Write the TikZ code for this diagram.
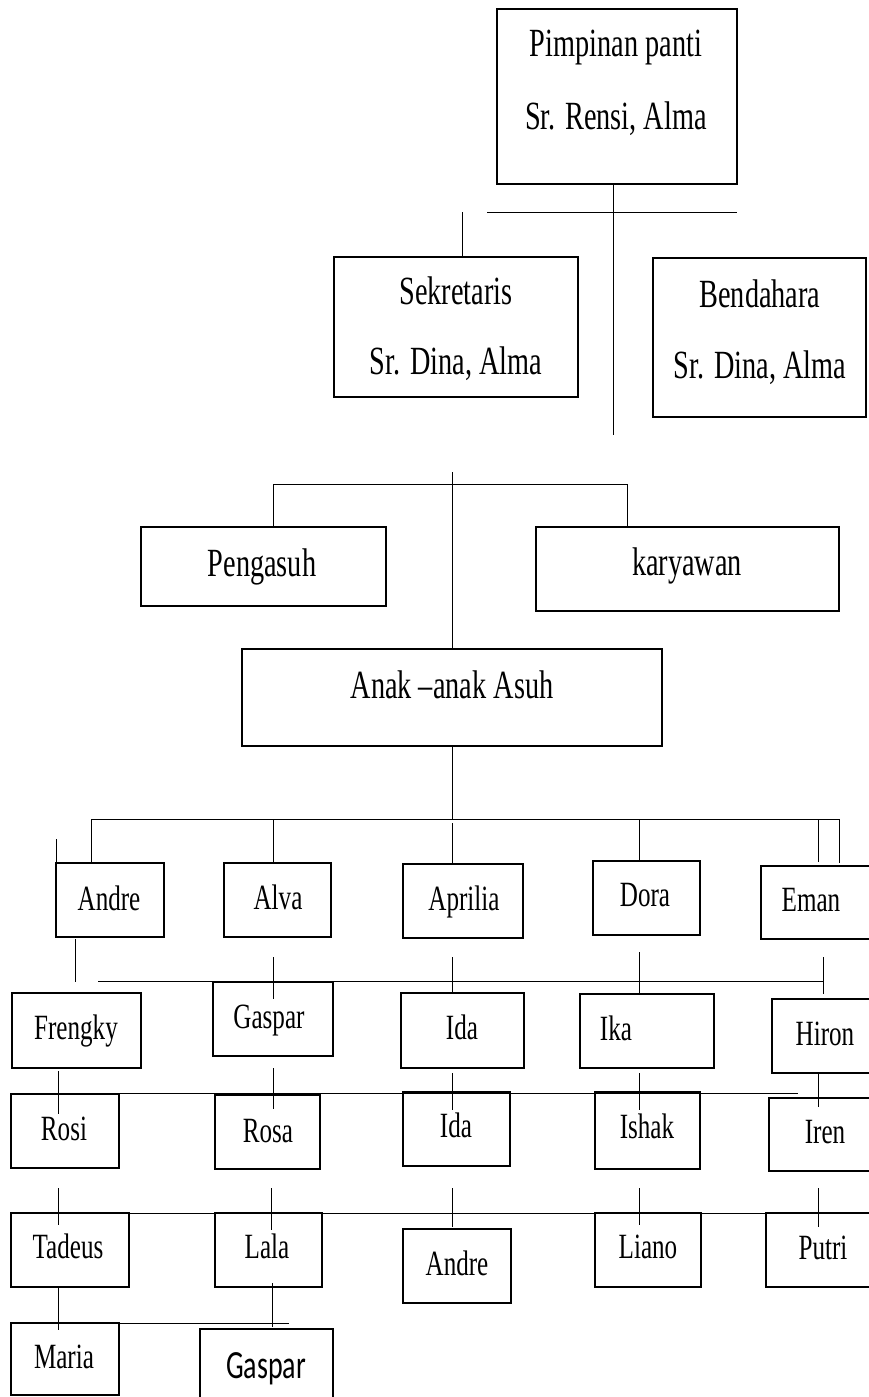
\documentclass[tikz,border=0pt]{standalone}
\usepackage{fontspec}
\setmainfont{Liberation Serif}[FakeStretch=0.707]
\newfontfamily\calfont{Carlito}[FakeStretch=0.70]
\newcommand\orgbox[5]{%
  \pgfmathsetmacro\bw{#4-#2}\pgfmathsetmacro\bh{#5-#3}%
  \pgfmathsetmacro\bcx{(#2+#4)/2}\pgfmathsetmacro\bcy{(#3+#5)/2}%
  \node[orgrect, minimum width=\bw pt, minimum height=\bh pt] (#1) at (\bcx,\bcy) {};}
\newcommand\orglbl[4]{\node[lbl] (#1) at (#2,#3) {#4};}
\newcommand\rowlbl[4]{\node[lbl, rowfont] (#1) at (#2,#3) {#4};}
\newcommand\seg[5]{\coordinate (#1a) at (#2,#3); \coordinate (#1b) at (#4,#5); \draw[conn] (#1a) -- (#1b);}
\begin{document}
\begin{tikzpicture}[x=1pt,y=-1pt,
  orgrect/.style={draw, line width=2.4pt, inner sep=0pt},
  lbl/.style={anchor=base, inner sep=0pt, font=\fontsize{40}{46}\selectfont},
  rowfont/.style={font=\fontsize{35.5}{42}\selectfont},
  conn/.style={line width=1pt}]
\useasboundingbox (0,0) rectangle (869,1397);
% boxes
\orgbox{pim}{497}{9}{737}{184}
\orgbox{sek}{334}{257}{578}{397}
\orgbox{ben}{653}{258}{866}{417}
\orgbox{peng}{141}{527}{386}{606}
\orgbox{kary}{536}{527}{839}{611}
\orgbox{anak}{242}{649}{662}{746}
\orgbox{andre}{56}{863}{164}{937}
\orgbox{alva}{224}{863}{331}{937}
\orgbox{apr}{403}{864}{523}{938}
\orgbox{dora}{593}{861}{700}{935}
\orgbox{eman}{761}{866}{874}{939}
\orgbox{freng}{12}{993}{141}{1068}
\orgbox{gasp}{213}{982}{333}{1056}
\orgbox{ida}{401}{993}{524}{1068}
\orgbox{ika}{580}{994}{714}{1068}
\orgbox{hiron}{772}{999}{874}{1073}
\orgbox{rosi}{11}{1094}{119}{1168}
\orgbox{rosa}{215}{1095}{320}{1169}
\orgbox{idb}{403}{1092}{510}{1166}
\orgbox{ishak}{595}{1092}{700}{1169}
\orgbox{iren}{769}{1098}{874}{1171}
\orgbox{tad}{11}{1213}{129}{1287}
\orgbox{lala}{215}{1213}{322}{1287}
\orgbox{andreb}{403}{1229}{511}{1303}
\orgbox{liano}{595}{1213}{701}{1287}
\orgbox{putri}{766}{1213}{874}{1287}
\orgbox{maria}{11}{1323}{119}{1395}
\orgbox{gaspb}{200}{1329}{333}{1402}
% labels
\orglbl{pimA}{616}{57}{Pimpinan panti}
\orglbl{pimB}{616}{129}{Sr. Rensi, Alma}
\orglbl{sekA}{456}{304}{Sekretaris}
\orglbl{sekB}{456}{374}{Sr. Dina, Alma}
\orglbl{benA}{760}{307}{Bendahara}
\orglbl{benB}{760}{378}{Sr. Dina, Alma}
\orglbl{pengA}{262}{576}{Pengasuh}
\orglbl{karyA}{687}{575}{karyawan}
\orglbl{anakA}{452}{698}{Anak –anak Asuh}
\rowlbl{andreA}{109}{910}{Andre}
\rowlbl{alvaA}{278}{909}{Alva}
\rowlbl{aprA}{464}{910}{Aprilia}
\rowlbl{doraA}{645}{906}{Dora}
\rowlbl{emanA}{811}{911}{Eman}
\rowlbl{frengA}{76}{1039}{Frengky}
\rowlbl{gaspA}{269}{1028}{Gaspar}
\rowlbl{idaA}{462}{1039}{Ida}
\rowlbl{ikaA}{616}{1040}{Ika}
\rowlbl{hironA}{825}{1045}{Hiron}
\rowlbl{rosiA}{64}{1140}{Rosi}
\rowlbl{rosaA}{268}{1142}{Rosa}
\rowlbl{idbA}{456}{1137}{Ida}
\rowlbl{ishakA}{647}{1138}{Ishak}
\rowlbl{irenA}{825}{1143}{Iren}
\rowlbl{tadA}{68}{1258}{Tadeus}
\rowlbl{lalaA}{267}{1258}{Lala}
\rowlbl{andrebA}{457}{1275}{Andre}
\rowlbl{lianoA}{648}{1258}{Liano}
\rowlbl{putriA}{823}{1259}{Putri}
\rowlbl{mariaA}{64}{1368}{Maria}
\node[lbl, font=\calfont\fontsize{40}{46}\selectfont] (gaspbA) at (266,1378) {Gaspar};
% connectors
\seg{t1}{613}{184}{613}{435}
\seg{t2}{487}{212}{737}{212}
\seg{t3}{462}{212}{462}{256}
\coordinate (m1) at (452,472); \draw[conn] (m1) -- (anak.north);
\seg{m2}{273}{484}{627}{484}
\seg{m3}{273}{484}{273}{527}
\seg{m4}{627}{484}{627}{527}
\coordinate (m5) at (452,819); \draw[conn] (anak.south) -- (m5);
\seg{r1}{91}{819}{839}{819}
\seg{r2}{91}{819}{91}{863}
\seg{r3}{273}{819}{273}{863}
\seg{r4}{452}{823}{452}{864}
\seg{r5}{639}{819}{639}{861}
\seg{r6}{818}{819}{818}{862}
\seg{r7}{839}{819}{839}{863}
\seg{r8}{56}{839}{56}{863}
\seg{s1}{75}{939}{75}{982}
\seg{s2}{98}{981}{823}{981}
\seg{s3}{823}{957}{823}{994}
\seg{s4}{273}{957}{273}{999}
\seg{s5}{452}{957}{452}{993}
\seg{s6}{639}{952}{639}{994}
\seg{u1}{58}{1071}{58}{1114}
\seg{u2}{76}{1093}{798}{1093}
\seg{u3}{273}{1068}{273}{1109}
\seg{u4}{452}{1073}{452}{1110}
\seg{u5}{639}{1073}{639}{1110}
\seg{u6}{818}{1073}{818}{1107}
\seg{v1}{58}{1188}{58}{1225}
\seg{v2}{271}{1188}{271}{1230}
\seg{v3}{452}{1188}{452}{1227}
\seg{v4}{639}{1188}{639}{1225}
\seg{v5}{818}{1188}{818}{1227}
\seg{v6}{129}{1213}{766}{1213}
\seg{w1}{58}{1287}{58}{1330}
\seg{w2}{272}{1283}{272}{1327}
\seg{w3}{119}{1323}{289}{1323}
\end{tikzpicture}
\end{document}
